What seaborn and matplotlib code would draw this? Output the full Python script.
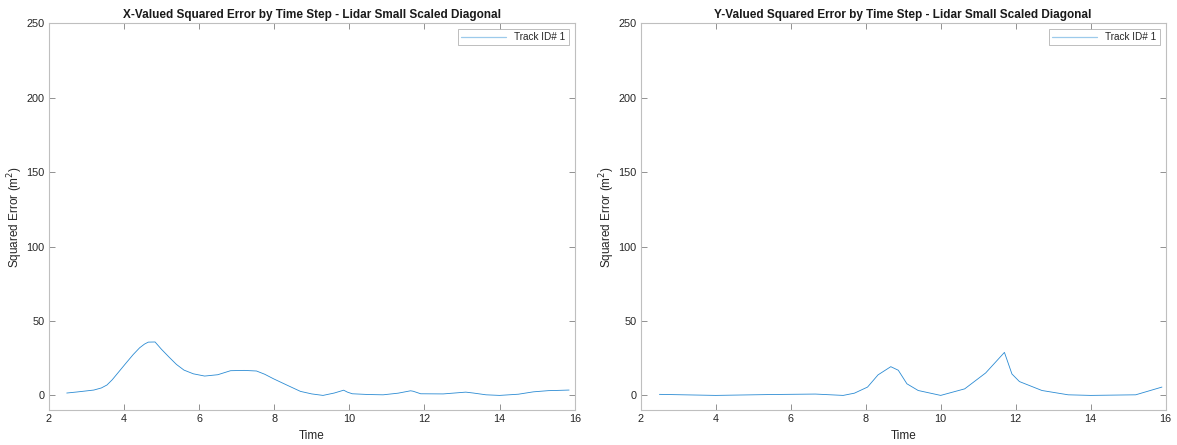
import matplotlib
matplotlib.use("Agg")
import matplotlib.pyplot as plt
import seaborn as sns
import pandas as pd

# X-valued squared error
time_x = [2.48, 2.75, 2.96, 3.20, 3.40, 3.55, 3.69, 3.87, 4.05, 4.25, 4.42, 4.55, 4.65, 4.83,
          5.00, 5.20, 5.40, 5.60, 5.85, 6.15, 6.50, 6.84, 7.20, 7.53, 7.75, 7.98, 8.35, 8.70,
          9.00, 9.30, 9.60, 9.85, 9.95, 10.08, 10.50, 10.90, 11.30, 11.63, 11.70, 11.90,
          12.50, 13.10, 13.30, 13.64, 14.00, 14.50, 14.90, 15.30, 15.60, 15.85]
err_x = [1.6, 2.3, 2.9, 3.6, 5.0, 7.0, 10.5, 16.0, 21.5, 27.5, 32.0, 34.5, 35.8, 35.9,
         31.0, 25.8, 20.8, 17.0, 14.5, 13.0, 13.9, 16.6, 16.8, 16.4, 14.2, 11.2, 6.8, 2.7,
         1.0, 0.0, 1.6, 3.5, 2.2, 1.1, 0.6, 0.4, 1.5, 3.1, 2.8, 1.1, 1.0, 2.2, 1.6, 0.4,
         0.0, 0.8, 2.4, 3.2, 3.4, 3.6]

# Y-valued squared error
time_y = [2.50, 4.00, 5.50, 6.66, 7.40, 7.70, 8.05, 8.33, 8.67, 8.87, 9.10, 9.40, 10.00,
          10.64, 11.20, 11.70, 11.90, 12.10, 12.70, 13.40, 14.00, 15.20, 15.90]
err_y = [0.7, 0.0, 0.6, 0.9, 0.0, 1.5, 5.6, 13.8, 19.3, 16.9, 7.8, 3.3, 0.0,
         4.4, 15.1, 28.9, 14.4, 9.3, 3.3, 0.4, 0.0, 0.4, 5.6]

titles = ["X-Valued Squared Error by Time Step - Lidar Small Scaled Diagonal",
          "Y-Valued Squared Error by Time Step - Lidar Small Scaled Diagonal"]
series_label = "Track ID# 1"
x_ticks = [2, 4, 6, 8, 10, 12, 14, 16]
y_ticks = [0, 50, 100, 150, 200, 250]

sns.set_theme(style="white")
plt.rcParams['font.family'] = ['Liberation Sans', 'DejaVu Sans']

fig = plt.figure(figsize=(11.77, 4.45), dpi=100)
ax1 = fig.add_axes([0.0414, 0.078, 0.4469, 0.8696])
ax2 = fig.add_axes([0.5443, 0.078, 0.4461, 0.8696])

line_color = "#2B8BD3"
text_color = "#262626"
spine_color = "#BFBFBF"

for ax, t, e, title in [(ax1, time_x, err_x, titles[0]), (ax2, time_y, err_y, titles[1])]:
    df = pd.DataFrame({"Time": t, "Err": e})
    sns.lineplot(data=df, x="Time", y="Err", ax=ax, color=line_color, lw=0.6,
                 label=series_label)
    ax.set_xlim(2, 16)
    ax.set_ylim(-10, 250)
    ax.set_xticks(x_ticks)
    ax.set_yticks(y_ticks)
    ax.set_xlabel("Time", fontsize=8.5, color=text_color, labelpad=4)
    ax.set_ylabel("Squared Error (m$^2$)", fontsize=8.5, color=text_color, labelpad=1)
    ax.set_title(title, fontsize=8.5, fontweight="bold", color="#1a1a1a", pad=4)
    ax.tick_params(axis="both", which="both", direction="in", length=4, width=0.6,
                   colors="#808080", labelcolor=text_color, labelsize=7.8,
                   top=True, right=True, bottom=True, left=True, pad=3)
    for s in ax.spines.values():
        s.set_color(spine_color)
        s.set_linewidth(0.8)
    leg = ax.legend(loc="upper right", fontsize=7.2, frameon=True, fancybox=False,
                    borderpad=0.3, handlelength=4.5, handletextpad=0.8,
                    borderaxespad=0.6)
    leg.get_frame().set_edgecolor("#A0A0A0")
    leg.get_frame().set_linewidth(0.6)
    for h in leg.legend_handles:
        h.set_color("#9CCAEB")
        h.set_linewidth(0.9)

fig.savefig("out.png", dpi=100)
